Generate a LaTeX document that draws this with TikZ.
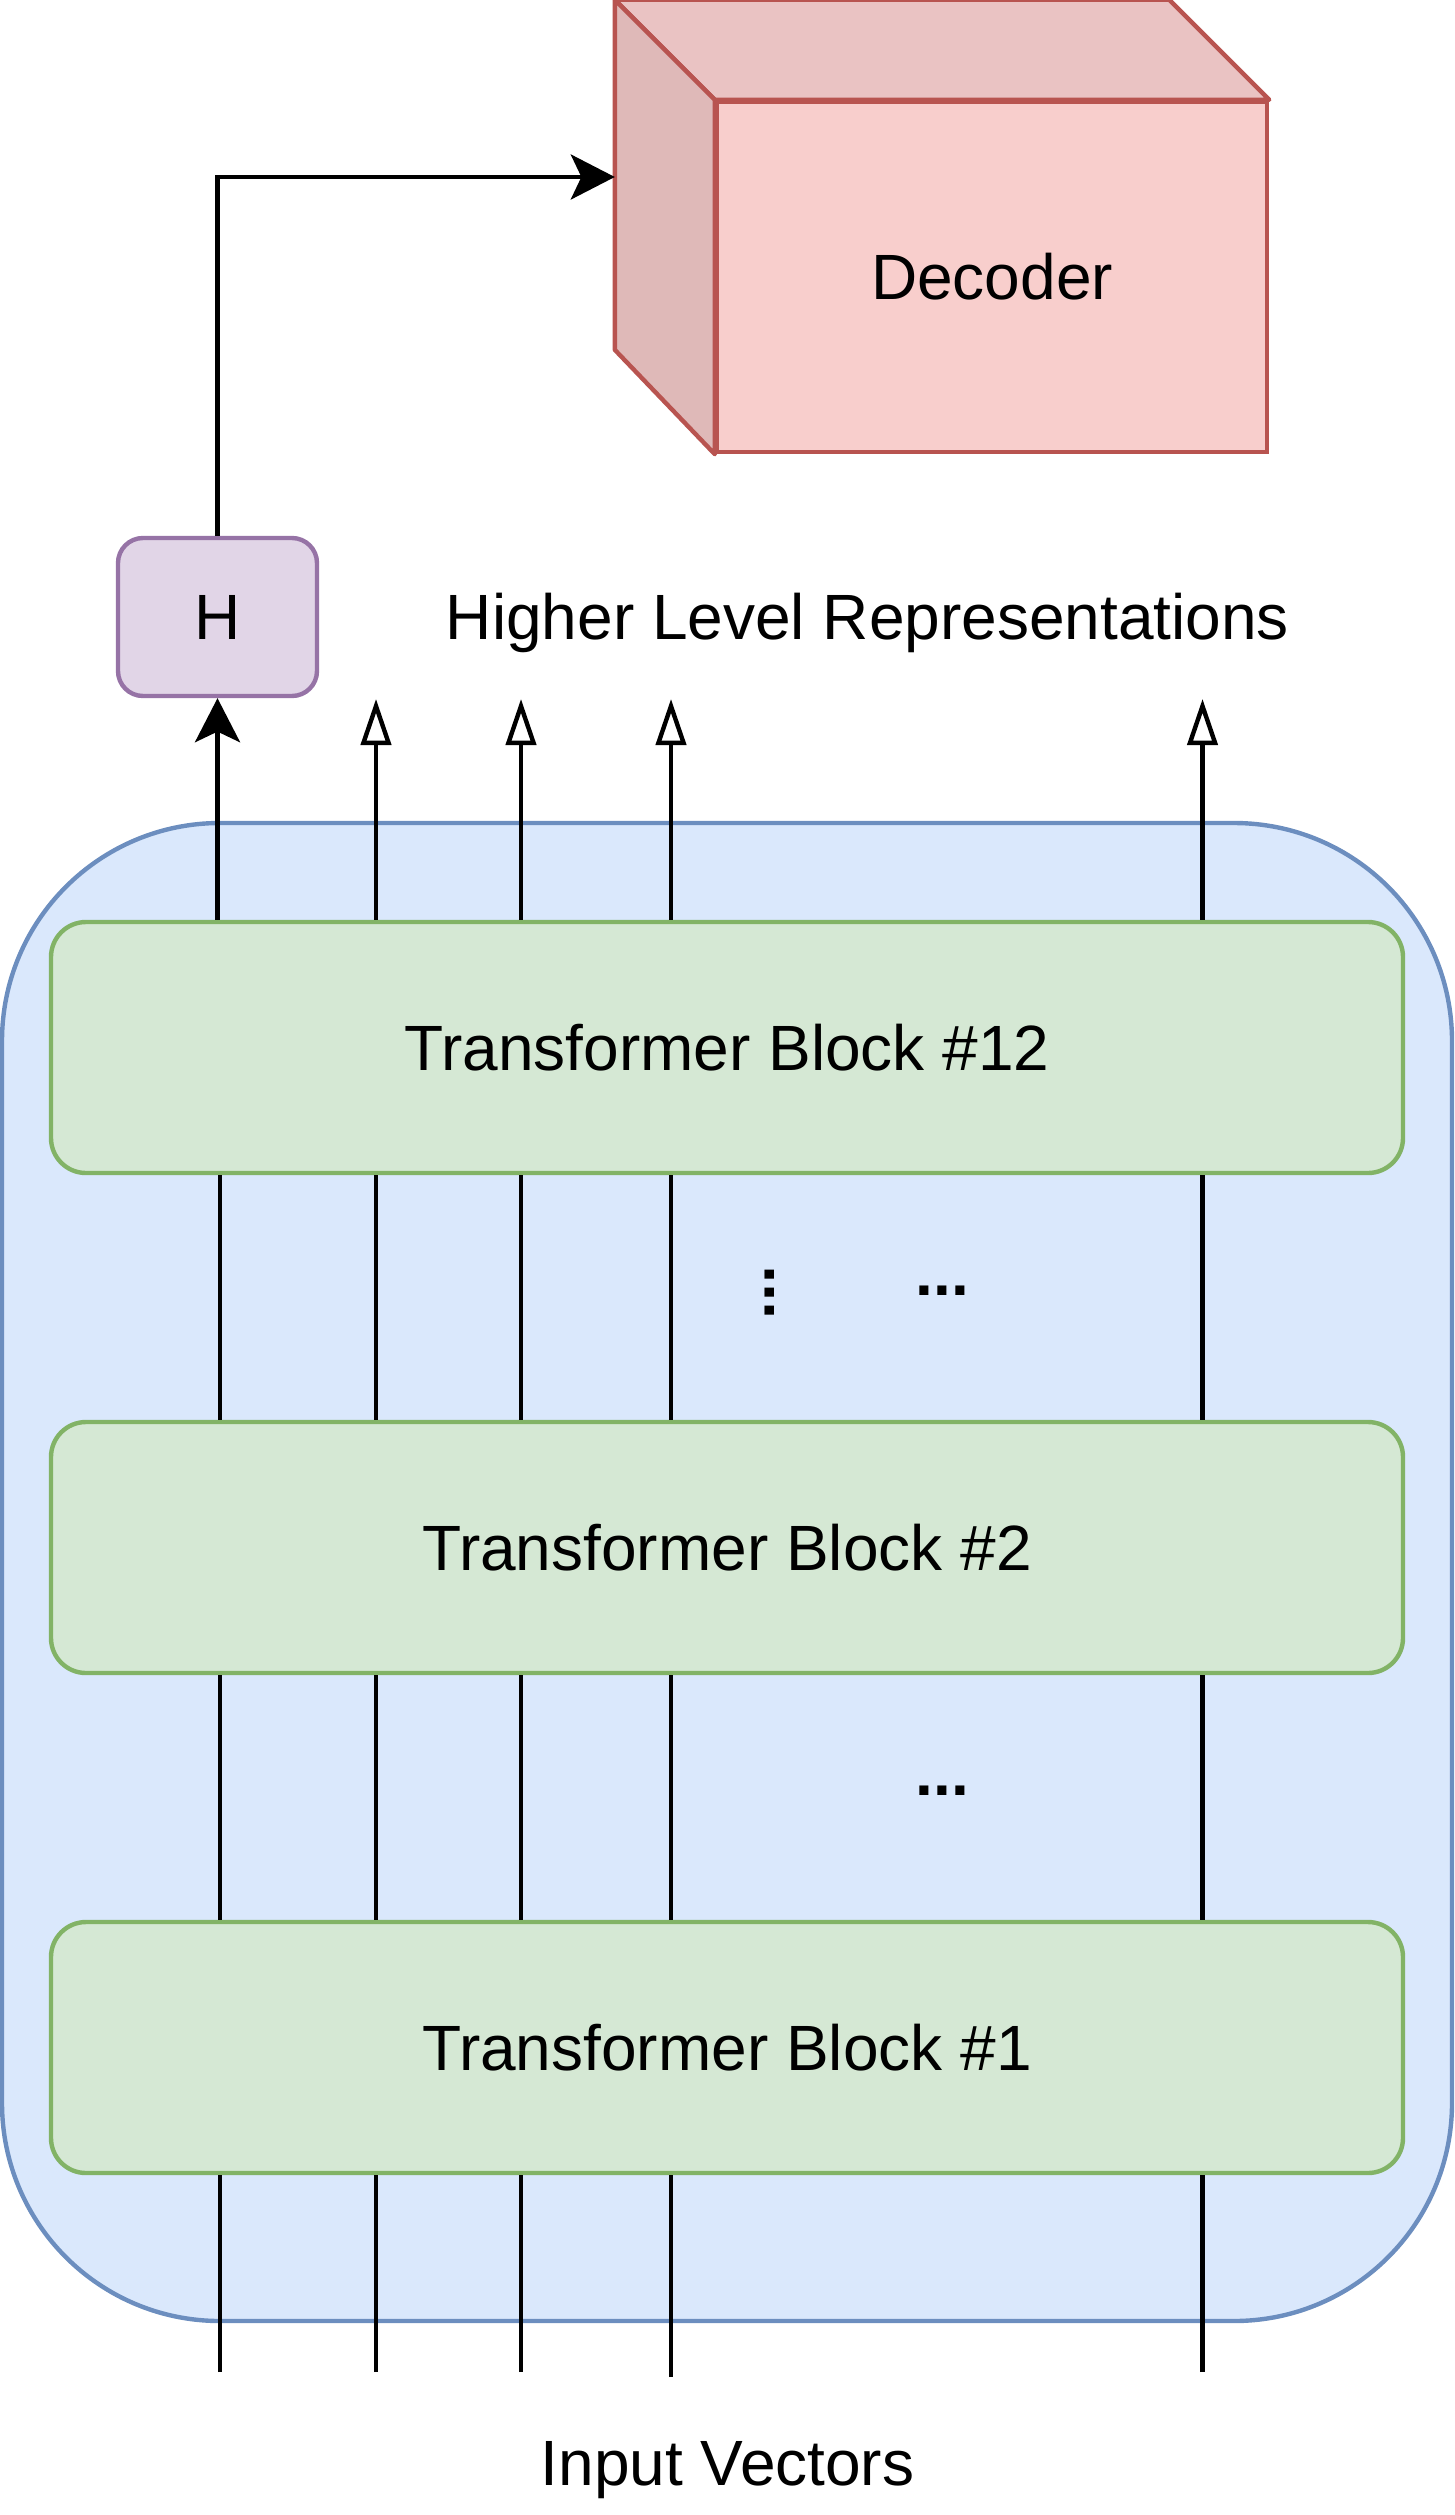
\documentclass[tikz,border=0pt]{standalone}
\usepackage{fontspec}
\setmainfont{Liberation Sans}
\usetikzlibrary{arrows.meta,calc}
\definecolor{bluefill}{HTML}{DAE8FC}
\definecolor{blueline}{HTML}{6C8EBF}
\definecolor{greenfill}{HTML}{D5E8D4}
\definecolor{greenline}{HTML}{82B366}
\definecolor{purplefill}{HTML}{E1D5E7}
\definecolor{purpleline}{HTML}{9673A6}
\definecolor{redfill}{HTML}{F8CECC}
\definecolor{redtop}{HTML}{EAC3C3}
\definecolor{redside}{HTML}{DFB9B8}
\definecolor{redline}{HTML}{B85450}
\begin{document}
\begin{tikzpicture}[x=0.5pt,y=-0.5pt,
  font=\fontsize{32}{38}\selectfont,
  conn/.style={line width=2.2pt, draw=black},
  border/.style={line width=2.2pt},
  tblock/.style={draw=greenline, fill=greenfill, border, rounded corners=17.5pt,
    minimum width=676pt, minimum height=125.5pt, inner sep=0pt},
  openhead/.style={-{Triangle[length=23pt,width=15pt,fill=white]}},
  solidhead/.style={-{Stealth[length=22pt,width=22.5pt,inset=5.3pt]}},
  dotsnode/.style={font=\fontsize{32}{38}\selectfont\bfseries, inner sep=0pt}]
\useasboundingbox (0,0) rectangle (1455,2515);

% container
\node[draw=blueline, fill=bluefill, border, rounded corners=109pt,
  minimum width=725pt, minimum height=749pt, inner sep=0pt] (cont) at (727,1572) {};

% transformer blocks
\node[tblock] (b12) at (727,1047.5) {Transformer Block \#12};
\node[tblock] (b2) at (727,1547.5) {Transformer Block \#2};
\node[tblock] (b1) at (727,2047.5) {Transformer Block \#1};

% H box
\node[draw=purpleline, fill=purplefill, border, rounded corners=12.5pt,
  minimum width=99.5pt, minimum height=79pt, inner sep=0pt] (H) at (217.5,617) {H};

% decoder cube
\node[draw=redline, fill=redfill, border, minimum width=275pt, minimum height=175pt,
  inner sep=0pt] (dec) at (992,277) {Decoder};
\draw[draw=redline, fill=redtop, border, line join=round]
  (dec.north west) -- ++(-100,-100) -- ($(dec.north east)+(-100,-100)$) -- (dec.north east) -- cycle;
\draw[draw=redline, fill=redside, border, line join=round]
  (dec.north west) -- ++(-100,-100) -- ++(0,350) -- (dec.south west) -- cycle;
\coordinate (decin) at ($(dec.west)+(-100,-100)$);

% input coordinates and output coordinates
\coordinate (in1) at (220,2372);
\coordinate (in2) at (376,2372);
\coordinate (in3) at (521,2372);
\coordinate (in4) at (671,2377);
\coordinate (in5) at (1202.5,2372);
\coordinate (out2) at (376,699);
\coordinate (out3) at (521,699);
\coordinate (out4) at (671,699);
\coordinate (out5) at (1202.5,699);

\foreach \i in {1,...,5} {
  \draw[conn] (in\i) -- (in\i |- b1.south);
  \draw[conn] (in\i |- b1.north) -- (in\i |- b2.south);
  \draw[conn] (in\i |- b2.north) -- (in\i |- b12.south);
}
\draw[conn, solidhead] (H.south |- b12.north) -- (H.south);
\foreach \i in {2,...,5} {
  \draw[conn, openhead] (in\i |- b12.north) -- (out\i);
}

% H to decoder
\draw[conn, solidhead] (H.north) |- (decin);

% dots
\node[dotsnode, rotate=90] (vdots) at (769.5,1292.5) {...};
\node[dotsnode] (hdots1) at (942.5,1290.5) {...};
\node[dotsnode] (hdots2) at (942.5,1790.5) {...};

% labels
\node[anchor=base] (hlr) at (867.5,639) {Higher Level Representations};
\node[anchor=base] (iv) at (727.5,2485) {Input Vectors};
\end{tikzpicture}
\end{document}
